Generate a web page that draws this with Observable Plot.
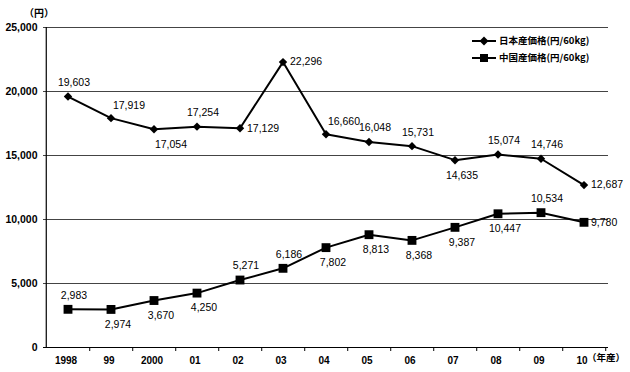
<!DOCTYPE html>
<html><head><meta charset="utf-8">
<script src="https://cdn.jsdelivr.net/npm/d3@7"></script>
<script src="https://cdn.jsdelivr.net/npm/@observablehq/plot@0.6"></script>
<style>
body{margin:0;background:#fff;}
#wrap{position:relative;width:630px;height:372px;font-family:"Liberation Sans",Arial,"Noto Sans CJK JP",sans-serif;color:#000;}
#unit{position:absolute;left:24px;top:5px;font-size:10px;font-weight:bold;font-family:"Noto Sans CJK JP",sans-serif;}
#legend{position:absolute;left:472px;top:32px;font-size:9.5px;font-weight:bold;font-family:"Noto Sans CJK JP",sans-serif;line-height:17px;}
#legend div{display:flex;align-items:center;white-space:nowrap;}
#legend svg{margin-right:3px;}
</style></head><body><div id="wrap"><div id="unit">（円）</div><div id="legend"></div></div>
<script>
const years = ["1998","99","2000","01","02","03","04","05","06","07","08","09","10"];
const japanPrice = [19603,17919,17054,17254,17129,22296,16660,16048,15731,14635,15074,14746,12687];
const chinaPrice = [2983,2974,3670,4250,5271,6186,7802,8813,8368,9387,10447,10534,9780];
const japanLabelPlace = ["above","aboveRight","belowRight","above","right","right","aboveRight","above","above","below","above","above","right"];
const chinaLabelPlace = ["above","below","below","below","above","above","below","below","below","below","below","above","right"];
const yTicks = [0,5000,10000,15000,20000,25000];
const seriesNames = ["日本産価格(円/60kg)","中国産価格(円/60kg)"];
const xUnit = "（年産）";

const W = 630, H = 372, mL = 43, mR = 22, mT = 27, mB = 25;
const bw = (W - mL - mR) / years.length;
const frameH = H - mT - mB;

const rows = [];
years.forEach((y, i) => {
  rows.push({year: y, value: japanPrice[i], series: seriesNames[0], place: japanLabelPlace[i]});
  rows.push({year: y, value: chinaPrice[i], series: seriesNames[1], place: chinaLabelPlace[i]});
});
const fmt = d3.format(",");
const placeStyle = {
  above: {dx: 6, dy: -14, textAnchor: "middle"},
  aboveRight: {dx: 18, dy: -13, textAnchor: "middle"},
  below: {dx: 7, dy: 15, textAnchor: "middle"},
  belowRight: {dx: 17, dy: 15, textAnchor: "middle"},
  right: {dx: 7, dy: 0, textAnchor: "start"}
};
const labelMarks = Object.entries(placeStyle).map(([p, s]) =>
  Plot.text(rows.filter(d => d.place === p), {x: "year", y: "value", text: d => fmt(d.value), fontSize: 10.5, fill: "#000", ...s})
);

const chart = Plot.plot({
  width: W, height: H,
  marginLeft: mL, marginRight: mR, marginTop: mT, marginBottom: mB,
  style: {fontFamily: "'Liberation Sans', Arial, sans-serif", background: "transparent", color: "#000"},
  x: {type: "band", domain: years, padding: 0},
  y: {domain: [0, 25000]},
  marks: [
    Plot.gridY(yTicks.filter(t => t > 0), {stroke: "#444", strokeOpacity: 1, strokeWidth: 1}),
    Plot.ruleY([0], {stroke: "#000", strokeWidth: 1.2}),
    Plot.ruleX([years[0]], {x: d => d, dx: -bw / 2, stroke: "#000", strokeWidth: 1.2}),
    Plot.ruleX(years, {x: d => d, dx: bw / 2, dy: 4, insetTop: frameH - 4, stroke: "#000", strokeWidth: 1}),
    Plot.axisY({ticks: yTicks, tickFormat: fmt, tickSize: 0, tickPadding: 6, fontSize: 10.5, fontWeight: "bold", label: null}),
    Plot.axisX({tickSize: 0, tickPadding: 9, fontSize: 10, fontWeight: "bold", label: null, dx: -2}),
    Plot.text([years[years.length - 1]], {x: d => d, frameAnchor: "bottom", dy: 13, dx: 3, text: () => xUnit, textAnchor: "start", fontSize: 9.5, fontWeight: "bold", fontFamily: "'Noto Sans CJK JP', sans-serif"}),
    Plot.line(rows, {x: "year", y: "value", z: "series", stroke: "#000", strokeWidth: 2}),
    Plot.dot(rows.filter(d => d.series === seriesNames[0]), {x: "year", y: "value", symbol: "diamond2", r: 3.8, fill: "#000", stroke: "none"}),
    Plot.dot(rows.filter(d => d.series === seriesNames[1]), {x: "year", y: "value", symbol: "square", r: 5, fill: "#000", stroke: "none"}),
    ...labelMarks
  ]
});
const wrap = document.getElementById("wrap");
wrap.insertBefore(chart, wrap.firstChild);
chart.style.position = "absolute"; chart.style.left = "0"; chart.style.top = "0";

const legend = document.getElementById("legend");
const shapes = [
  '<polygon points="12,1.5 16.5,6 12,10.5 7.5,6" fill="#000"/>',
  '<rect x="8" y="2" width="8" height="8" fill="#000"/>'
];
seriesNames.forEach((name, i) => {
  const row = document.createElement("div");
  row.innerHTML = `<svg width="24" height="12"><line x1="0" y1="6" x2="24" y2="6" stroke="#000" stroke-width="2"/>${shapes[i]}</svg><span>${name}</span>`;
  legend.appendChild(row);
});
</script>
</body></html>
